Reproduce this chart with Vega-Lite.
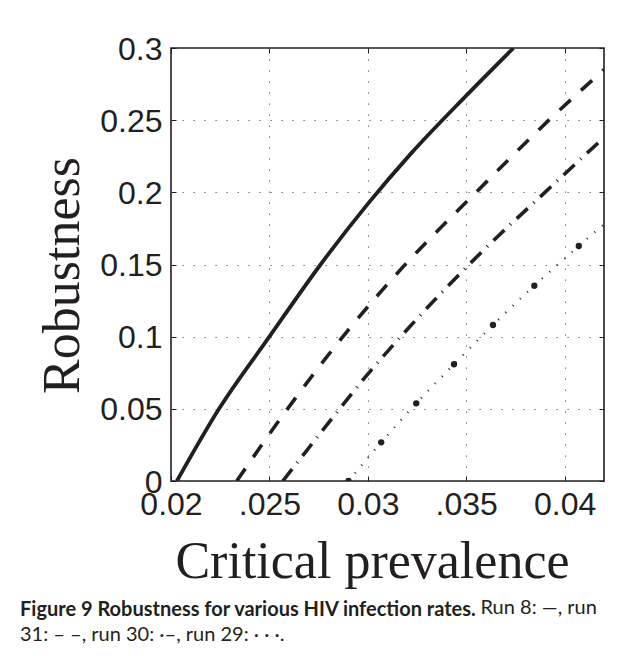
{
  "$schema": "https://vega.github.io/schema/vega-lite/v6.json",
  "width": 433,
  "height": 433,
  "autosize": {"type": "none"},
  "padding": {"left": 171, "top": 48, "right": 22, "bottom": 175},
  "background": "white",
  "data": {
    "values": [
      {"run": "8", "x": 0.0203, "y": 0},
      {"run": "8", "x": 0.02244, "y": 0.05},
      {"run": "8", "x": 0.025, "y": 0.1},
      {"run": "8", "x": 0.0276, "y": 0.15},
      {"run": "8", "x": 0.03, "y": 0.192},
      {"run": "8", "x": 0.0322, "y": 0.227},
      {"run": "8", "x": 0.035, "y": 0.267},
      {"run": "8", "x": 0.0374, "y": 0.3},
      {"run": "31", "x": 0.02334, "y": 0},
      {"run": "31", "x": 0.02592, "y": 0.05},
      {"run": "31", "x": 0.02894, "y": 0.1035},
      {"run": "31", "x": 0.0318, "y": 0.1485},
      {"run": "31", "x": 0.0355, "y": 0.2},
      {"run": "31", "x": 0.0392, "y": 0.25},
      {"run": "31", "x": 0.042, "y": 0.285},
      {"run": "30", "x": 0.02568, "y": 0},
      {"run": "30", "x": 0.0277, "y": 0.035},
      {"run": "30", "x": 0.02975, "y": 0.07},
      {"run": "30", "x": 0.03207, "y": 0.106},
      {"run": "30", "x": 0.03572, "y": 0.1578},
      {"run": "30", "x": 0.039, "y": 0.2},
      {"run": "30", "x": 0.042, "y": 0.238},
      {"run": "29", "x": 0.02902, "y": 0},
      {"run": "29", "x": 0.03068, "y": 0.0268},
      {"run": "29", "x": 0.03246, "y": 0.0538},
      {"run": "29", "x": 0.03438, "y": 0.0809},
      {"run": "29", "x": 0.03636, "y": 0.1081},
      {"run": "29", "x": 0.03846, "y": 0.1353},
      {"run": "29", "x": 0.04072, "y": 0.1628},
      {"run": "29", "x": 0.04307, "y": 0.1903}
    ]
  },
  "title": {
    "text": "Figure 9 Robustness for various HIV infection rates.",
    "subtitle": "31: – –, run 30: ·–, run 29: · · ·.",
    "orient": "bottom",
    "anchor": "start",
    "frame": "group",
    "dx": -151,
    "offset": -17,
    "font": "Lato",
    "fontSize": 20,
    "fontWeight": "bold",
    "color": "#231f20",
    "subtitleFont": "Lato",
    "subtitleFontSize": 20,
    "subtitleFontWeight": "normal",
    "subtitleColor": "#231f20",
    "subtitlePadding": 5,
    "subtitleLineHeight": 25
  },
  "layer": [
    {
      "transform": [{"filter": "datum.run == '8'"}],
      "mark": {"type": "line", "color": "#231f20", "strokeWidth": 3.8, "interpolate": "monotone", "clip": true},
      "encoding": {
        "x": {
          "field": "x", "type": "quantitative",
          "scale": {"domain": [0.02, 0.042], "nice": false, "zero": false},
          "axis": {
            "orient": "bottom",
            "values": [0.02, 0.025, 0.03, 0.035, 0.04],
            "format": "~g",
            "labelExpr": "datum.label == '0.025' ? '.025' : datum.label == '0.035' ? '.035' : datum.label",
            "labelFlush": false,
            "labelOverlap": false,
            "labelPadding": 38,
            "labelBaseline": "alphabetic",
            "grid": true,
            "title": "Critical prevalence",
            "titleX": 201,
            "titleY": 96,
            "titleBaseline": "alphabetic",
            "titleAlign": "center"
          }
        },
        "y": {
          "field": "y", "type": "quantitative",
          "scale": {"domain": [0, 0.3], "nice": false, "zero": false},
          "axis": {
            "orient": "left",
            "values": [0, 0.05, 0.1, 0.15, 0.2, 0.25, 0.3],
            "format": "~g",
            "labelFlush": false,
            "labelOverlap": false,
            "labelPadding": 14,
            "labelBaseline": "alphabetic",
            "labelOffset": 11,
            "grid": true,
            "title": "Robustness",
            "titleX": -93,
            "titleY": 227,
            "titleAngle": 270,
            "titleBaseline": "alphabetic",
            "titleAlign": "center"
          }
        }
      }
    },
    {
      "transform": [{"filter": "datum.run == '31'"}],
      "mark": {"type": "line", "color": "#231f20", "strokeWidth": 3.6, "strokeDash": [15, 14], "interpolate": "monotone", "clip": true},
      "encoding": {
        "x": {"field": "x", "type": "quantitative", "scale": {"domain": [0.02, 0.042], "nice": false, "zero": false}, "axis": null},
        "y": {"field": "y", "type": "quantitative", "scale": {"domain": [0, 0.3], "nice": false, "zero": false}, "axis": null}
      }
    },
    {
      "transform": [{"filter": "datum.run == '30'"}],
      "mark": {"type": "line", "color": "#231f20", "strokeWidth": 3.6, "strokeDash": [15, 8, 1, 8], "interpolate": "monotone", "clip": true},
      "encoding": {
        "x": {"field": "x", "type": "quantitative", "scale": {"domain": [0.02, 0.042], "nice": false, "zero": false}, "axis": null},
        "y": {"field": "y", "type": "quantitative", "scale": {"domain": [0, 0.3], "nice": false, "zero": false}, "axis": null}
      }
    },
    {
      "transform": [{"filter": "datum.run == '29'"}],
      "mark": {"type": "line", "color": "#231f20", "strokeWidth": 2.2, "strokeDash": [1, 9], "interpolate": "monotone", "clip": true},
      "encoding": {
        "x": {"field": "x", "type": "quantitative", "scale": {"domain": [0.02, 0.042], "nice": false, "zero": false}, "axis": null},
        "y": {"field": "y", "type": "quantitative", "scale": {"domain": [0, 0.3], "nice": false, "zero": false}, "axis": null}
      }
    },
    {
      "transform": [{"filter": "datum.run == '29'"}],
      "mark": {"type": "point", "filled": true, "color": "#231f20", "size": 40, "opacity": 1, "clip": true},
      "encoding": {
        "x": {
          "field": "x", "type": "quantitative",
          "scale": {"domain": [0.02, 0.042], "nice": false, "zero": false},
          "axis": {
            "orient": "top",
            "values": [0.02, 0.025, 0.03, 0.035, 0.04],
            "labels": false,
            "grid": false,
            "title": "Run 8: —, run",
            "titleX": 309,
            "titleY": 565,
            "titleAngle": 0,
            "titleAlign": "left",
            "titleBaseline": "alphabetic",
            "titleFont": "Lato",
            "titleFontSize": 20,
            "titleFontWeight": "normal"
          }
        },
        "y": {
          "field": "y", "type": "quantitative",
          "scale": {"domain": [0, 0.3], "nice": false, "zero": false},
          "axis": {"orient": "right", "values": [0, 0.05, 0.1, 0.15, 0.2, 0.25, 0.3], "labels": false, "grid": false, "title": null}
        }
      }
    }
  ],
  "resolve": {"axis": {"x": "independent", "y": "independent"}},
  "config": {
    "view": {"stroke": "#231f20", "strokeWidth": 1.6},
    "axis": {
      "domain": false,
      "ticks": true,
      "tickColor": "#231f20",
      "tickWidth": 1,
      "tickSize": -5,
      "labelFont": "Liberation Sans",
      "labelFontSize": 32,
      "labelColor": "#231f20",
      "gridColor": "#555555",
      "gridDash": [1.2, 9.8],
      "gridWidth": 1,
      "titleFont": "Liberation Serif",
      "titleFontSize": 52,
      "titleFontWeight": "normal",
      "titleColor": "#231f20"
    }
  }
}
